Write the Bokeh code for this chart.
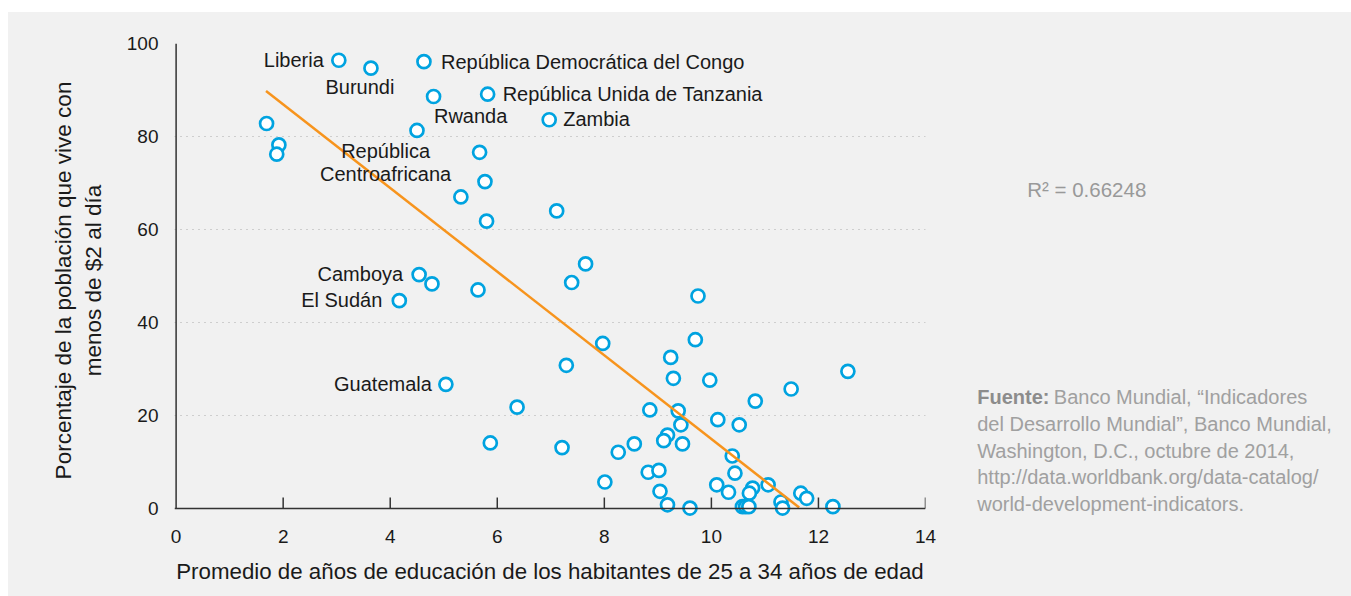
import math
from bokeh.plotting import figure
from bokeh.models import ColumnDataSource, Range1d, FixedTicker, Span, Spacer
from bokeh.layouts import column, row
from bokeh.core.properties import value
from bokeh.embed import file_html
from bokeh.resources import INLINE

# ---------------- data ----------------
edu = [3.04, 3.64, 4.63, 4.81, 5.82, 6.97, 1.69, 1.92, 1.88, 4.50, 5.67, 5.77, 5.32, 7.11, 5.80,
       4.54, 4.78, 4.17, 5.64, 7.65, 7.39, 9.75, 9.70, 7.97, 9.24, 7.29, 9.29, 9.97, 12.55, 11.49,
       5.04, 6.37, 10.82, 8.85, 9.38, 10.12, 10.52, 9.43, 9.18, 9.11, 9.46, 8.56, 8.26, 7.21, 5.87,
       10.39, 10.44, 8.82, 9.02, 8.01, 9.04, 10.10, 10.32, 10.77, 10.71, 11.06, 11.67, 11.78, 11.30,
       11.33, 9.18, 9.60, 10.58, 10.64, 10.70, 12.27]
pov = [96.4, 94.7, 96.1, 88.6, 89.1, 83.6, 82.8, 78.2, 76.2, 81.3, 76.6, 70.3, 67.0, 64.0, 61.8,
       50.3, 48.3, 44.7, 47.0, 52.6, 48.6, 45.7, 36.3, 35.5, 32.5, 30.8, 28.0, 27.6, 29.5, 25.7,
       26.7, 21.8, 23.1, 21.2, 21.0, 19.1, 18.0, 18.0, 15.8, 14.6, 13.9, 13.9, 12.1, 13.1, 14.1,
       11.3, 7.6, 7.8, 8.2, 5.7, 3.7, 5.1, 3.5, 4.4, 3.3, 5.1, 3.3, 2.2, 1.4,
       0.1, 0.8, 0.1, 0.4, 0.4, 0.4, 0.4]

label_names = ["Liberia", "Burundi", "República Democrática del Congo", "República Unida de Tanzania",
               "Zambia", "Rwanda", "República", "Centroafricana", "Camboya", "El Sudán", "Guatemala"]
label_point = [0, 1, 2, 4, 5, 9, 10, 10, 15, 17, 30]

trend_x = [1.68, 11.64]
trend_y = [89.8, 0.2]

x_ticks = [0, 2, 4, 6, 8, 10, 12, 14]
y_ticks = [0, 20, 40, 60, 80, 100]

r2_text = "R² = 0.66248"
source_bold = "Fuente:"
source_lines = ["Banco Mundial, “Indicadores",
                "del Desarrollo Mundial”, Banco Mundial,",
                "Washington, D.C., octubre de 2014,",
                "http://data.worldbank.org/data-catalog/",
                "world-development-indicators."]

# ---------------- styles ----------------
BG = "#f1f1f1"
BLUE = "#00a3e0"
ORANGE = "#f7941d"
AXIS = "#333333"
TXT = "#1a1a1a"
FONT = "Liberation Sans"

label_style = {  # align, x_offset, y_offset (screen px)
    "Liberia": ("right", -15, 0),
    "Burundi": ("center", -11, 19),
    "República Democrática del Congo": ("left", 17, 0),
    "República Unida de Tanzania": ("left", 15, 0),
    "Zambia": ("left", 14, -1),
    "Rwanda": ("left", 17, -14),
    "República": ("center", -94, -1),
    "Centroafricana": ("center", -94, 22),
    "Camboya": ("right", -16, -1),
    "El Sudán": ("right", -17, -1),
    "Guatemala": ("right", -14, 0),
}

TOTAL_W = 1343
H = 584
W1 = 960
W2 = TOTAL_W - W1
TOP, FH = 31, 474
BOTTOM = H - TOP - FH

p = figure(width=W1, height=H, output_backend="svg", toolbar_location=None,
           x_range=Range1d(-0.03, 14), y_range=Range1d(-1.93, 100),
           min_border_left=166, min_border_right=W1 - 166 - 751,
           min_border_top=TOP, min_border_bottom=BOTTOM)
p.background_fill_color = BG
p.border_fill_color = BG
p.outline_line_color = None

# axes
p.xaxis.ticker = FixedTicker(ticks=x_ticks)
p.yaxis.ticker = FixedTicker(ticks=y_ticks)
for ax in (p.xaxis[0], p.yaxis[0]):
    ax.axis_line_color = None
    ax.major_tick_line_color = None
    ax.minor_tick_line_color = None
    ax.major_tick_out = 0
    ax.major_tick_in = 0
    ax.major_label_text_color = TXT
    ax.axis_label_text_color = TXT
    ax.axis_label_text_font_style = "normal"

p.xaxis.major_label_text_font = FONT
p.xaxis.major_label_text_font_size = "19px"
p.xaxis.major_label_standoff = 12
p.xaxis.axis_label = "Promedio de años de educación de los habitantes de 25 a 34 años de edad"
p.xaxis.axis_label_text_font = FONT
p.xaxis.axis_label_text_font_size = "22.3px"
p.xaxis.axis_label_standoff = 13

p.yaxis.major_label_text_font = FONT
p.yaxis.major_label_text_font_size = "19px"
p.yaxis.major_label_standoff = 16
p.yaxis.axis_label = "Porcentaje de la población que vive con\nmenos de $2 al día"
p.yaxis.axis_label_text_font = FONT
p.yaxis.axis_label_text_font_size = "22.5px"
p.yaxis.axis_label_standoff = 18

# grid
p.xgrid.grid_line_color = None
p.ygrid.ticker = FixedTicker(ticks=y_ticks[1:])
p.ygrid.grid_line_color = "#ababab"
p.ygrid.grid_line_dash = "1 5"
p.ygrid.grid_line_width = 1.2

# axis lines and inner ticks
p.add_layout(Span(location=0, dimension="width", line_color=AXIS, line_width=1.5))
p.segment(x0=[x_ticks[0]], y0=[y_ticks[0]], x1=[x_ticks[0]], y1=[y_ticks[-1]],
          line_color=AXIS, line_width=1.5)
p.ray(x=x_ticks[1:], y=[0] * (len(x_ticks) - 1), length=11, length_units="screen",
      angle=math.pi / 2, line_color=AXIS, line_width=1.5)

# points
src = ColumnDataSource(dict(x=edu, y=pov))
p.scatter("x", "y", source=src, size=13, line_color=BLUE, line_width=2.7, fill_color="white")

# trend line
p.line(trend_x, trend_y, line_color=ORANGE, line_width=2.5)

# country labels
lab = ColumnDataSource(dict(
    x=[edu[i] for i in label_point],
    y=[pov[i] for i in label_point],
    text=label_names,
    align=[label_style[n][0] for n in label_names],
    xo=[label_style[n][1] for n in label_names],
    yo=[label_style[n][2] for n in label_names],
))
p.text("x", "y", text="text", source=lab, text_align="align", x_offset="xo", y_offset="yo",
       text_baseline="middle", text_font=value(FONT), text_font_size="20px",
       text_color=TXT)

# ---------------- right-hand notes panel (data units = pixels from panel top-left) ----------------
p2 = figure(width=W2, height=H, output_backend="svg", toolbar_location=None,
            x_range=Range1d(0, W2), y_range=Range1d(TOP + FH, TOP),
            x_axis_type=None, y_axis_type=None,
            min_border_left=0, min_border_right=0, min_border_top=TOP, min_border_bottom=BOTTOM)
p2.background_fill_color = BG
p2.border_fill_color = BG
p2.outline_line_color = None
p2.grid.grid_line_color = None

note_x = 8.7
line_y = [384.7, 411.3, 438.0, 464.7, 491.3]
p2.text(x=[58.7], y=[177.3], text=[r2_text], text_baseline="middle",
        text_font=value(FONT), text_font_size="20.5px", text_color="#999999")
p2.text(x=[note_x], y=[line_y[0]], text=[source_bold], text_baseline="middle",
        text_font=value(FONT), text_font_size="20px", text_font_style="bold",
        text_color="#8c8c8c")
p2.text(x=[85.3] + [note_x] * (len(source_lines) - 1), y=line_y, text=source_lines,
        text_baseline="middle", text_font=value(FONT), text_font_size="20px",
        text_color="#a0a0a0")

plots = row(p, p2, styles={"background-color": BG})
layout = column(Spacer(height=12, width=TOTAL_W + 8),
                row(Spacer(width=8, height=H), plots))
open("out.html", "w").write(file_html(layout, INLINE))
